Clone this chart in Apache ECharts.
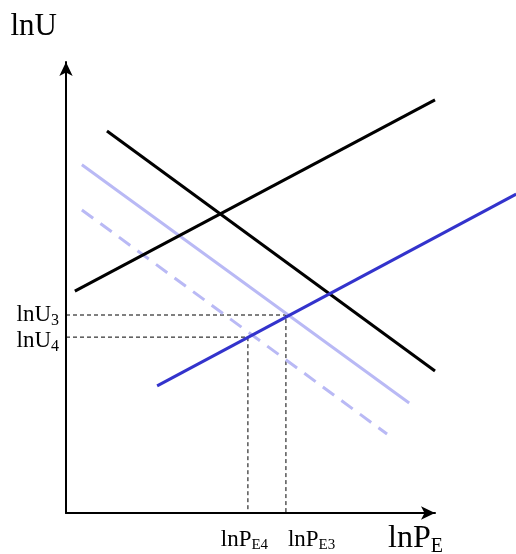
<!DOCTYPE html>
<html>
<head>
<meta charset="utf-8">
<script src="https://cdn.jsdelivr.net/npm/echarts@6/dist/echarts.min.js"></script>
<style>html,body{margin:0;padding:0;background:#fff}#c{width:516px;height:554px}</style>
</head>
<body>
<div id="c"></div>
<script>
// Data (axis units 0..100 on both axes; the plotted lines may run past x = 100)
const risingBlack = [[2.4, 49.2], [100, 91.6]];
const fallingBlack = [[11.1, 84.7], [100, 31.5]];
const risingBlue = [[24.7, 28.2], [122, 70.7]];
const fallingLight = [[4.3, 77.2], [93, 24.4]];
const fallingLightDashed = [[4.3, 67.2], [87, 17.5]];
const yTickValues = [43.9, 39.0];          // lnU3, lnU4
const yTickLabels = ['3', '4'];
const xTickValues = [49.3, 59.6];          // lnPE4, lnPE3
const xTickLabels = ['E4', 'E3'];
const guidePairs = [[59.6, 43.9], [49.3, 39.0]]; // (lnPE3, lnU3), (lnPE4, lnU4)

const serif = 'Liberation Serif';
const axisRight = 81;     // px right of the drawn x axis arrow
const chartW = 516, gridLeft = 66;
const axisSpanPx = chartW - axisRight - gridLeft;
const dataXMax = 100 * (chartW - gridLeft) / axisSpanPx; // same scale, extended to the right edge

const chart = echarts.init(document.getElementById('c'), null, {renderer: 'canvas'});

const rich = (mainSize, subSize, subPad) => ({
  m: {fontFamily: serif, fontSize: mainSize, color: '#000', lineHeight: mainSize + 2, verticalAlign: 'top'},
  s: {fontFamily: serif, fontSize: subSize, color: '#000', lineHeight: subSize, verticalAlign: 'bottom', padding: [subPad, 0, 0, 0]}
});

const hiddenBits = {splitLine: {show: false}, axisTick: {show: false}};
const arrowLine = {show: true, symbol: ['none', 'arrow'], symbolSize: [10, 14], lineStyle: {color: '#000', width: 2}};

function xLabelAxis(i, show) {
  return Object.assign({
    type: 'value', min: 0, max: 100, gridIndex: 0, position: 'bottom',
    axisLine: show ? arrowLine : {show: false},
    axisLabel: {
      show: true, customValues: [xTickValues[i]], margin: 15,
      align: i === 0 ? 'center' : 'left',
      padding: i === 0 ? [0, 7, 0, 0] : [0, 0, 0, 2],
      formatter: () => '{m|lnP}{s|' + xTickLabels[i] + '}',
      rich: rich(23, 15, 10)
    }
  }, hiddenBits);
}
function yLabelAxis(i, show) {
  return Object.assign({
    type: 'value', min: 0, max: 100, gridIndex: 0, position: 'left',
    axisLine: show ? arrowLine : {show: false},
    axisLabel: {
      show: true, customValues: [yTickValues[i]], margin: 7,
      padding: i === 0 ? [2, 0, 0, 0] : [10, 0, 0, 0],
      formatter: () => '{m|lnU}{s|' + yTickLabels[i] + '}',
      rich: rich(23, 16, 10)
    }
  }, hiddenBits);
}

const xAxes = [xLabelAxis(0, true), xLabelAxis(1, false),
  Object.assign({type: 'value', min: 0, max: dataXMax, gridIndex: 1, show: false}, hiddenBits)];
Object.assign(xAxes[0], {
  name: '{m|lnP}{s|E}', nameLocation: 'end', nameGap: 8,
  nameTextStyle: {align: 'right', verticalAlign: 'top', padding: [10, 0, 0, 0], rich: rich(32, 20, 26)}
});
const yAxes = [yLabelAxis(0, true), yLabelAxis(1, false),
  Object.assign({type: 'value', min: 0, max: 100, gridIndex: 1, show: false}, hiddenBits)];
Object.assign(yAxes[0], {
  name: 'lnU', nameLocation: 'end', nameGap: 20,
  nameTextStyle: {fontFamily: serif, fontSize: 31, color: '#000', align: 'right', verticalAlign: 'bottom', padding: [0, 9, 0, 0]}
});

const onData = {xAxisIndex: 2, yAxisIndex: 2, type: 'line', symbol: 'none', silent: true};
const guideSeries = guidePairs.map(([xv, yv]) => Object.assign({
  z: 1, lineStyle: {color: '#000', width: 1, type: [4, 3]},
  data: [[0, yv], [xv, yv], [xv, 0]]
}, onData));

chart.setOption({
  animation: false,
  grid: [
    {left: gridLeft, right: axisRight, top: 62, bottom: 41, containLabel: false, outerBoundsMode: 'none'},
    {left: gridLeft, right: 0, top: 62, bottom: 41, containLabel: false, outerBoundsMode: 'none'}
  ],
  xAxis: xAxes,
  yAxis: yAxes,
  series: guideSeries.concat([
    Object.assign({z: 3, lineStyle: {color: '#b9b9f5', width: 3}, data: fallingLight}, onData),
    Object.assign({z: 3, lineStyle: {color: '#b9b9f5', width: 3, type: [14, 9]}, data: fallingLightDashed}, onData),
    Object.assign({z: 4, lineStyle: {color: '#000', width: 3}, data: risingBlack}, onData),
    Object.assign({z: 4, lineStyle: {color: '#000', width: 3}, data: fallingBlack}, onData),
    Object.assign({z: 5, lineStyle: {color: '#3333cc', width: 3}, data: risingBlue}, onData)
  ])
});
</script>
</body>
</html>
